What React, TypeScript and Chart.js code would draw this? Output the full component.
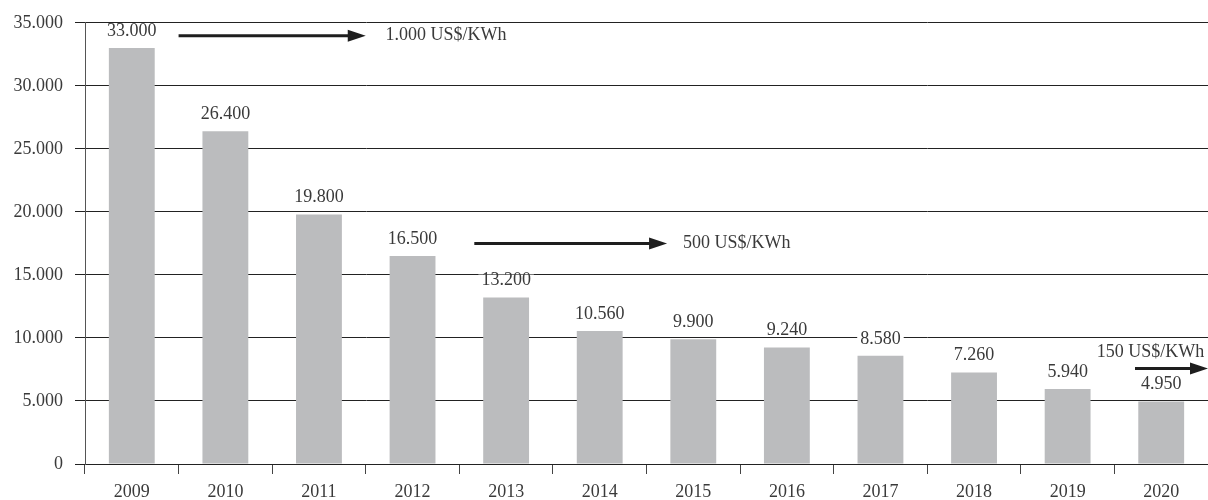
import React, { useEffect, useRef } from 'react';
import { Chart, registerables } from 'chart.js';

Chart.register(...registerables);

const years = ['2009', '2010', '2011', '2012', '2013', '2014', '2015', '2016', '2017', '2018', '2019', '2020'];
const costs = [33000, 26400, 19800, 16500, 13200, 10560, 9900, 9240, 8580, 7260, 5940, 4950];
const yMin = 0;
const yMax = 35000;
const yStep = 5000;

const arrowLabels = ['1.000 US$/KWh', '500 US$/KWh', '150 US$/KWh'];
const arrowFrom = [0.5, 3.66, 10.72];
const arrowTo = [2.5, 5.72, 11.5];
const arrowLevel = [33975, 17500, 7570];
const arrowTextX = [2.71, 5.89, 11.46];
const arrowTextLevel = [33975, 17500, 8900];
const arrowTextAlign = ['left', 'left', 'right'];

const FONT = '"Liberation Serif", "Times New Roman", serif';
const TEXT = '#3a3a3a';

const fmt = (n: number) => String(n).replace(/\B(?=(\d{3})+(?!\d))/g, '.');

const labelPlugin = {
  id: 'labelsAndArrows',
  afterDatasetsDraw(chart: any) {
    const ctx = chart.ctx;
    const meta = chart.getDatasetMeta(0);
    const xs = chart.scales.x;
    const ys = chart.scales.y;
    ctx.save();
    ctx.font = `18px ${FONT}`;
    ctx.textAlign = 'center';
    ctx.textBaseline = 'middle';
    meta.data.forEach((bar: any, i: number) => {
      const t = fmt(costs[i]);
      const w = ctx.measureText(t).width;
      const cy = bar.y - 17;
      ctx.fillStyle = '#ffffff';
      ctx.fillRect(bar.x - w / 2 - 3, cy - 6, w + 6, 12);
      ctx.fillStyle = TEXT;
      ctx.fillText(t, bar.x, cy);
    });
    arrowLabels.forEach((lab, i) => {
      const x0 = xs.getPixelForValue(arrowFrom[i]);
      const x1 = xs.getPixelForValue(arrowTo[i]);
      const y = ys.getPixelForValue(arrowLevel[i]);
      const head = 18;
      ctx.strokeStyle = '#1e1e1e';
      ctx.fillStyle = '#1e1e1e';
      ctx.lineWidth = 3;
      ctx.beginPath();
      ctx.moveTo(x0, y);
      ctx.lineTo(x1 - head + 1, y);
      ctx.stroke();
      ctx.beginPath();
      ctx.moveTo(x1, y);
      ctx.lineTo(x1 - head, y - 6);
      ctx.lineTo(x1 - head, y + 6);
      ctx.closePath();
      ctx.fill();
      ctx.fillStyle = TEXT;
      ctx.textAlign = arrowTextAlign[i] as CanvasTextAlign;
      ctx.fillText(lab, xs.getPixelForValue(arrowTextX[i]), ys.getPixelForValue(arrowTextLevel[i]));
    });
    ctx.restore();
  },
};

export default function App() {
  const ref = useRef<HTMLCanvasElement | null>(null);
  useEffect(() => {
    if (!ref.current) return;
    const chart = new Chart(ref.current, {
      type: 'bar',
      data: {
        labels: years,
        datasets: [
          {
            data: costs,
            backgroundColor: '#bbbcbe',
            borderWidth: 0,
            barPercentage: 0.49,
            categoryPercentage: 1,
          },
        ],
      },
      options: {
        animation: false,
        responsive: true,
        maintainAspectRatio: false,
        layout: { padding: { top: 20, right: 0, left: 0, bottom: 0 } },
        plugins: { legend: { display: false }, tooltip: { enabled: false } },
        scales: {
          x: {
            offset: true,
            afterFit: (s: any) => {
              s.height = 36;
            },
            grid: {
              offset: true,
              drawOnChartArea: false,
              drawTicks: true,
              tickLength: 10,
              color: '#444',
              lineWidth: 1,
            },
            border: { display: true, color: '#222' },
            ticks: { color: TEXT, font: { family: FONT, size: 18 }, padding: 7, maxRotation: 0 },
          },
          y: {
            min: yMin,
            max: yMax,
            afterFit: (s: any) => {
              s.width = 85;
            },
            ticks: {
              stepSize: yStep,
              color: TEXT,
              font: { family: FONT, size: 18 },
              padding: 12,
              callback: (v: any) => fmt(Number(v)),
            },
            grid: { color: '#222', lineWidth: 1, tickLength: 10, drawTicks: true },
            border: { display: true, color: '#555' },
          },
        },
      },
      plugins: [labelPlugin],
    });
    return () => chart.destroy();
  }, []);
  return (
    <div style={{ position: 'fixed', left: 0, top: 0, width: 1208, height: 500, background: '#fff' }}>
      <canvas ref={ref} />
    </div>
  );
}
